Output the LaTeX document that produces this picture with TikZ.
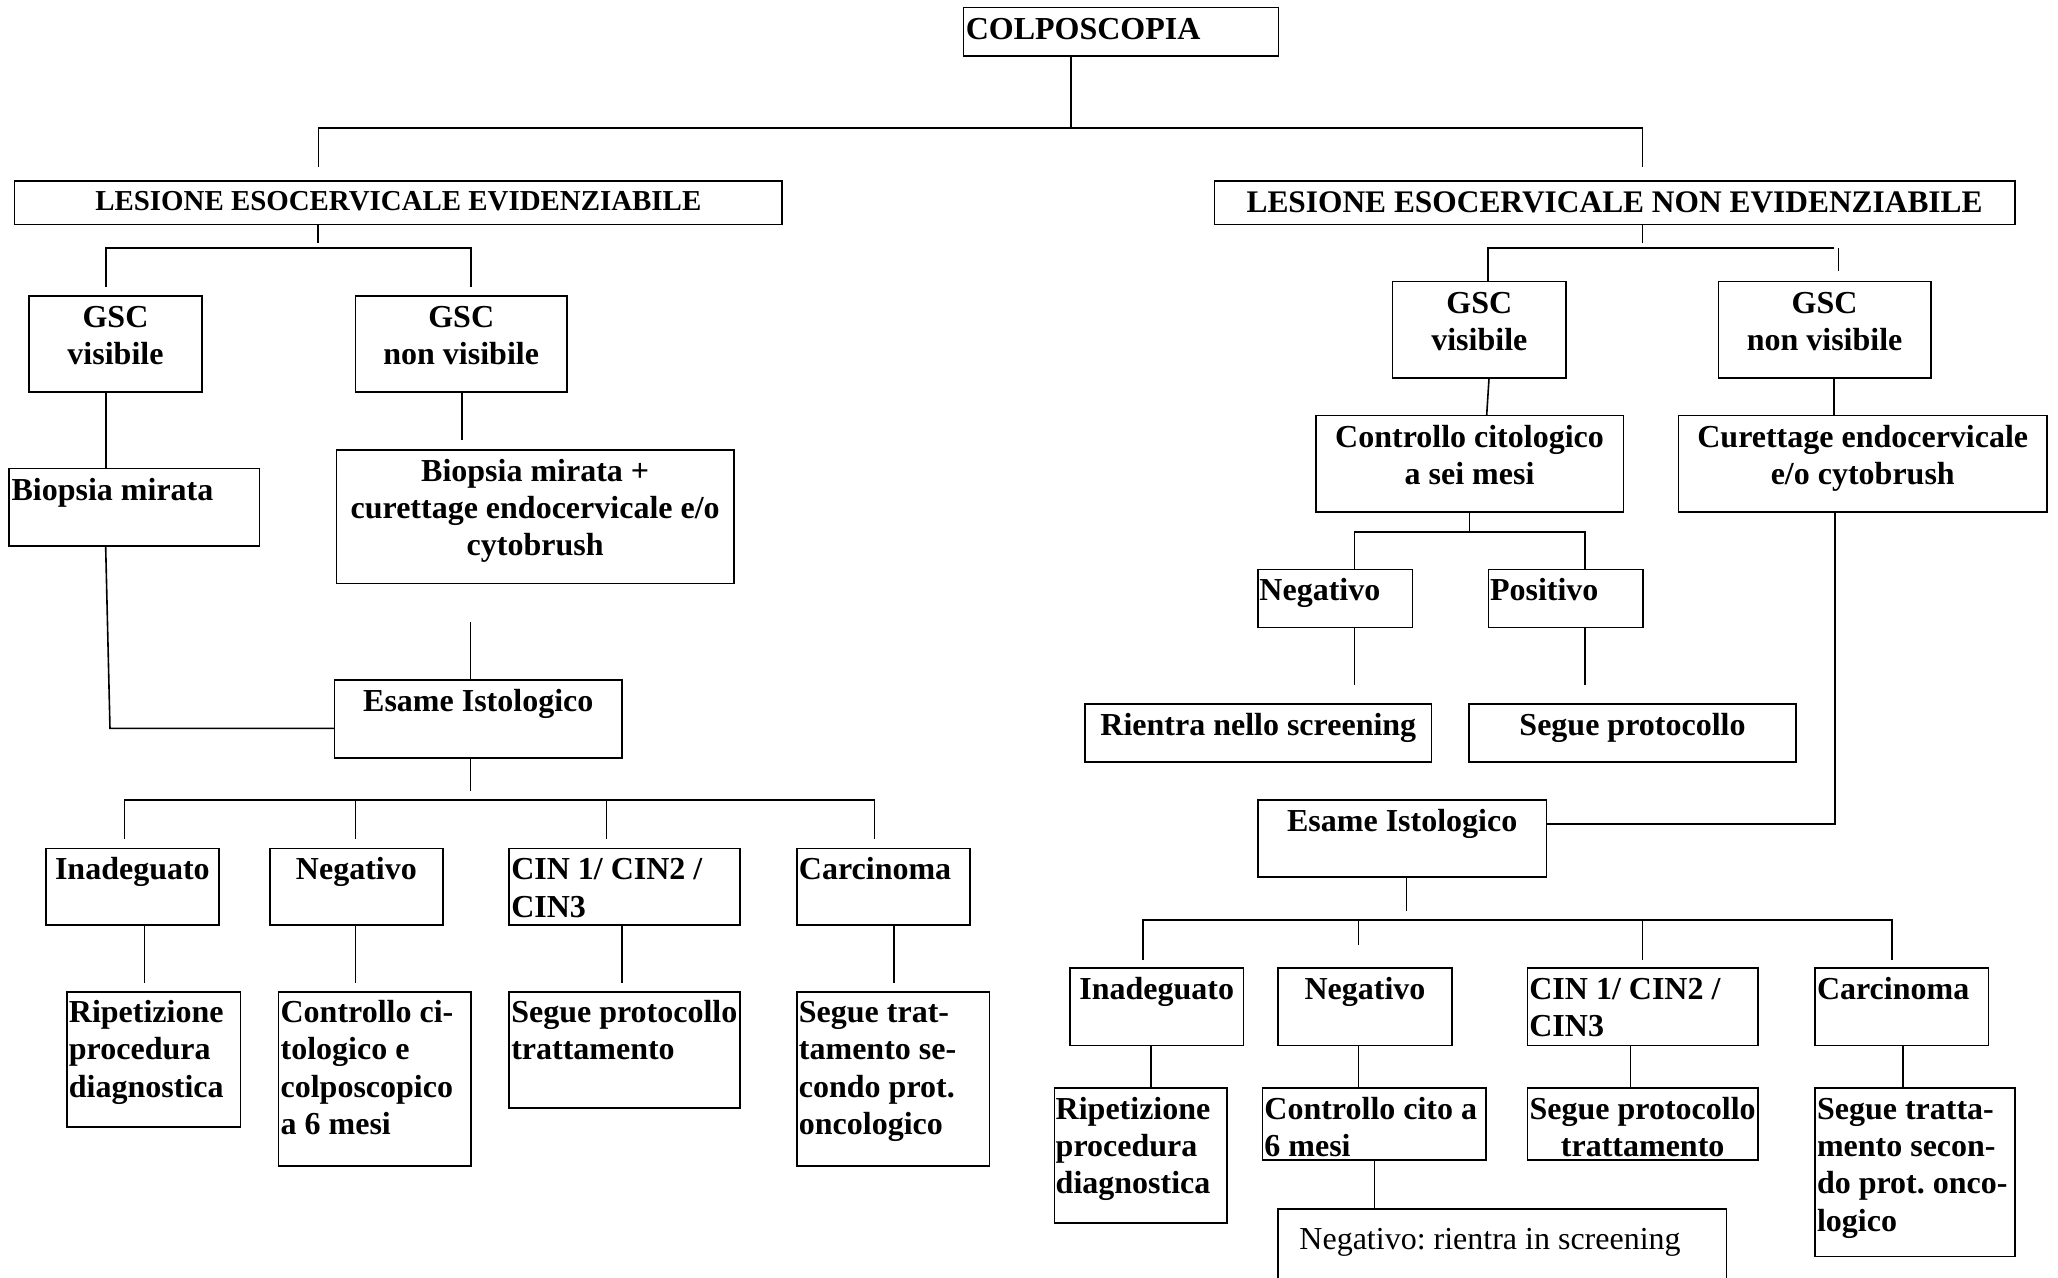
\documentclass[tikz,border=0pt]{standalone}
\usepackage{fontspec}
\setmainfont{Liberation Serif}
\usetikzlibrary{fit}
\frenchspacing
% stacked lines whose baseline is the first line
\newcommand{\cstack}[1]{\begin{tabular}[t]{@{}c@{}}#1\end{tabular}}
\newcommand{\lstack}[1]{\begin{tabular}[t]{@{}l@{}}#1\end{tabular}}
\begin{document}
\begin{tikzpicture}[x=0.65625pt, y=-0.65625pt,
  box/.style={draw, line width=0.8pt, inner sep=0pt, outer sep=0pt},
  wire/.style={line width=0.8pt},
  txt/.style={inner sep=0pt, outer sep=0pt, font=\fontsize{16}{18.6}\selectfont\bfseries},
  ctxt/.style={txt, anchor=base},
  ltxt/.style={txt, anchor=base west}]
\path[use as bounding box, clip] (0,0) rectangle (1568,973);
\fill[white] (0,0) rectangle (1568,973);

% ---------- boxes ----------
\node[box, fit={(734,5.6) (974,42.6)}] (colpo) {};
\node[box, fit={(11,138) (596,171)}] (lesL) {};
\node[box, fit={(925.4,138) (1535,171)}] (lesR) {};
% left branch
\node[box, fit={(22,225.5) (154,298.8)}] (gscVL) {};
\node[box, fit={(270.8,225.5) (432,298.8)}] (gscNL) {};
\node[box, fit={(7,357) (197.7,415.8)}] (biopL) {};
\node[box, fit={(256.3,342.7) (559.2,444.7)}] (biopC) {};
\node[box, fit={(254.8,518) (474,577.4)}] (esaL) {};
\node[box, fit={(35,646.4) (166.7,704.9)}] (inaL) {};
\node[box, fit={(205.7,646.4) (337.4,704.9)}] (negL) {};
\node[box, fit={(388,646.4) (563.7,704.9)}] (cinL) {};
\node[box, fit={(607.2,646.4) (738.9,704.9)}] (carL) {};
\node[box, fit={(51,756) (183.2,858.7)}] (ripL) {};
\node[box, fit={(212.3,756) (358.9,888.2)}] (ctrL) {};
\node[box, fit={(388,756) (563.7,844.2)}] (segL) {};
\node[box, fit={(607.2,756) (753.9,888.2)}] (trtL) {};
% right branch
\node[box, fit={(1061,214.6) (1193.2,288)}] (gscVR) {};
\node[box, fit={(1309.3,214.6) (1471,288)}] (gscNR) {};
\node[box, fit={(1002.5,316.6) (1236.8,390.3)}] (citR) {};
\node[box, fit={(1278.9,316.6) (1559.6,390.3)}] (curR) {};
\node[box, fit={(958.5,433.8) (1076.1,478)}] (negR1) {};
\node[box, fit={(1134.2,433.8) (1251.8,478)}] (posR) {};
\node[box, fit={(826.8,536.2) (1090.6,580.5)}] (rieR) {};
\node[box, fit={(1119.2,536.2) (1368.4,580.5)}] (sgpR) {};
\node[box, fit={(958.5,609.3) (1178.2,668.4)}] (esaR) {};
\node[box, fit={(815.2,737.7) (947.4,796.5)}] (inaR) {};
\node[box, fit={(973.9,737.7) (1106.1,796.5)}] (negR) {};
\node[box, fit={(1163.7,737.7) (1339.4,796.5)}] (cinR) {};
\node[box, fit={(1383,737.7) (1515.1,796.5)}] (carR) {};
\node[box, fit={(803.3,829) (934.9,931.8)}] (ripR) {};
\node[box, fit={(962,829) (1132.2,883.8)}] (ctoR) {};
\node[box, fit={(1163.7,829) (1339.4,884)}] (segR) {};
\node[box, fit={(1383,829) (1535.1,957.2)}] (trtR) {};
\node[box, fit={(973.9,921) (1315.4,990)}] (finR) {};

% ---------- texts ----------
\node[ltxt] (tcolpo) at ([xshift=1.2pt,yshift=-16pt]colpo.north west) {COLPOSCOPIA};
\node[ctxt, font=\fontsize{14.45}{17}\selectfont\bfseries] (tlesL) at ([yshift=-14.6pt]lesL.north) {LESIONE ESOCERVICALE EVIDENZIABILE};
\node[ctxt, font=\fontsize{15.7}{18}\selectfont\bfseries] (tlesR) at ([yshift=-15.5pt]lesR.north) {LESIONE ESOCERVICALE NON EVIDENZIABILE};

\node[ctxt] (tgscVL) at ([yshift=-15.75pt]gscVL.north) {\cstack{GSC\\visibile}};
\node[ctxt] (tgscNL) at ([yshift=-15.75pt]gscNL.north) {\cstack{GSC\\non visibile}};
\node[ltxt] (tbiopL) at ([xshift=1.2pt,yshift=-15.75pt]biopL.north west) {Biopsia mirata};
\node[ctxt] (tbiopC) at ([yshift=-15.75pt]biopC.north) {\cstack{Biopsia mirata +\\curettage endocervicale e/o\\cytobrush}};
\node[ctxt] (tesaL) at ([yshift=-15.75pt]esaL.north) {Esame Istologico};
\node[ctxt] (tinaL) at ([yshift=-15.75pt]inaL.north) {Inadeguato};
\node[ctxt] (tnegL) at ([yshift=-15.75pt]negL.north) {Negativo};
\node[ltxt] (tcinL) at ([xshift=1pt,yshift=-15.75pt]cinL.north west) {\lstack{CIN 1/ CIN2 /\\CIN3}};
\node[ltxt] (tcarL) at ([xshift=1pt,yshift=-15.75pt]carL.north west) {Carcinoma};
\node[ltxt] (tripL) at ([xshift=1pt,yshift=-15.2pt]ripL.north west) {\lstack{Ripetizione\\procedura\\diagnostica}};
\node[ltxt] (tctrL) at ([xshift=1pt,yshift=-15.2pt]ctrL.north west) {\lstack{Controllo ci-\\tologico e\\colposcopico\\a 6 mesi}};
\node[ltxt] (tsegL) at ([xshift=1pt,yshift=-15.2pt]segL.north west) {\lstack{Segue protocollo\\trattamento}};
\node[ltxt] (ttrtL) at ([xshift=1pt,yshift=-15.2pt]trtL.north west) {\lstack{Segue trat-\\tamento se-\\condo prot.\\oncologico}};

\node[ctxt] (tgscVR) at ([yshift=-15.75pt]gscVR.north) {\cstack{GSC\\visibile}};
\node[ctxt] (tgscNR) at ([yshift=-15.75pt]gscNR.north) {\cstack{GSC\\non visibile}};
\node[ctxt] (tcitR) at ([yshift=-15.75pt]citR.north) {\cstack{Controllo citologico\\a sei mesi}};
\node[ctxt] (tcurR) at ([yshift=-15.75pt]curR.north) {\cstack{Curettage endocervicale\\e/o cytobrush}};
\node[ltxt] (tnegR1) at ([xshift=0.7pt,yshift=-15.75pt]negR1.north west) {Negativo};
\node[ltxt] (tposR) at ([xshift=0.7pt,yshift=-15.75pt]posR.north west) {Positivo};
\node[ctxt] (trieR) at ([yshift=-15.75pt]rieR.north) {Rientra nello screening};
\node[ctxt] (tsgpR) at ([yshift=-15.75pt]sgpR.north) {Segue protocollo};
\node[ctxt] (tesaR) at ([yshift=-15.75pt]esaR.north) {Esame Istologico};
\node[ctxt] (tinaR) at ([yshift=-15.75pt]inaR.north) {Inadeguato};
\node[ctxt] (tnegR) at ([yshift=-15.75pt]negR.north) {Negativo};
\node[ltxt] (tcinR) at ([xshift=1pt,yshift=-15.75pt]cinR.north west) {\lstack{CIN 1/ CIN2 /\\CIN3}};
\node[ltxt] (tcarR) at ([xshift=0.9pt,yshift=-15.75pt]carR.north west) {Carcinoma};
\node[ltxt] (tripR) at ([xshift=0.7pt,yshift=-15.75pt]ripR.north west) {\lstack{Ripetizione\\procedura\\diagnostica}};
\node[ltxt] (tctoR) at ([xshift=0.9pt,yshift=-15.75pt]ctoR.north west) {\lstack{Controllo cito a\\6 mesi}};
\node[ctxt] (tsegR) at ([yshift=-15.75pt]segR.north) {\cstack{Segue protocollo\\trattamento}};
\node[ltxt] (ttrtR) at ([xshift=0.9pt,yshift=-15.75pt]trtR.north west) {\lstack{Segue tratta-\\mento secon-\\do prot. onco-\\logico}};
\node[ltxt, font=\fontsize{16}{18.6}\selectfont] (tfinR) at ([xshift=10.6pt,yshift=-20.1pt]finR.north west) {Negativo: rientra in screening};

% ---------- connectors ----------
% top split
\coordinate (busTop) at (816,97.3);
\coordinate (dL) at (242.8,126.9);
\coordinate (dR) at (1251.3,126.9);
\draw[wire] (colpo.south -| busTop) -- (busTop);
\draw[wire] (dL) |- (busTop) -| (dR);

% left: lesion visible
\coordinate (lsStub) at (242.3,185.4);
\coordinate (lsBus) at (242.3,188.8);
\coordinate (lsA) at (80.6,218.3);
\coordinate (lsB) at (359,218.3);
\draw[wire] (lesL.south -| lsStub) -- (lsStub);
\draw[wire] (lsA) |- (lsBus) -| (lsB);
\draw[wire] (gscVL.south -| lsA) -- (biopL.north -| lsA);
\coordinate (gnEnd) at (352,335.2);
\draw[wire] (gscNL.south -| gnEnd) -- (gnEnd);
\coordinate (bmTop) at (80.5,415.8);
\coordinate (bmCorner) at (83.8,554.9);
\draw[wire] (bmTop) -- (bmCorner) -- (esaL.west |- bmCorner);
\coordinate (bcStart) at (358.4,474.2);
\draw[wire] (bcStart) -- (esaL.north -| bcStart);
\coordinate (elStub) at (358.4,602.7);
\draw[wire] (esaL.south -| elStub) -- (elStub);
\coordinate (elBus) at (358.4,609.5);
\coordinate (el1) at (95,639.3);
\coordinate (el2) at (270.8,639.3);
\coordinate (el3) at (462,639.3);
\coordinate (el4) at (666.3,639.3);
\draw[wire] (el1) |- (elBus) -| (el4);
\draw[wire] (el2) -- (el2 |- elBus);
\draw[wire] (el3) -- (el3 |- elBus);
\coordinate (rl1) at (110,749.2);
\coordinate (rl2) at (270.8,749.2);
\coordinate (rl3) at (474,749.2);
\coordinate (rl4) at (681.3,749.2);
\draw[wire] (inaL.south -| rl1) -- (rl1);
\draw[wire] (negL.south -| rl2) -- (rl2);
\draw[wire] (cinL.south -| rl3) -- (rl3);
\draw[wire] (carL.south -| rl4) -- (rl4);

% right: lesion not visible
\coordinate (rsStub) at (1251.3,185.4);
\coordinate (rsBus) at (1251.3,189);
\coordinate (rsA) at (1133.6,214.6);
\coordinate (rsB) at (1397.3,189);
\draw[wire] (lesR.south -| rsStub) -- (rsStub);
\draw[wire] (rsA) |- (rsBus) -- (rsB);
\coordinate (rsC1) at (1400.9,189.2);
\coordinate (rsC2) at (1400.9,206.2);
\draw[wire] (rsC1) -- (rsC2);
\coordinate (gvA) at (1134.5,288);
\coordinate (gvB) at (1132.7,316.6);
\draw[wire] (gvA) -- (gvB);
\coordinate (gnR) at (1397.3,300);
\draw[wire] (gscNR.south -| gnR) -- (curR.north -| gnR);
\coordinate (ciStub) at (1119.6,405.1);
\draw[wire] (citR.south -| ciStub) -- (ciStub);
\coordinate (ci1) at (1032,433.8);
\coordinate (ci2) at (1207.8,433.8);
\draw[wire] (ci1) |- (ciStub) -| (ci2);
\coordinate (np1) at (1032,521.7);
\coordinate (np2) at (1207.8,521.7);
\draw[wire] (negR1.south -| np1) -- (np1);
\draw[wire] (posR.south -| np2) -- (np2);
\coordinate (cuCorner) at (1398,627.8);
\draw[wire] (curR.south -| cuCorner) -- (cuCorner) -- (esaR.east |- cuCorner);
\coordinate (erStub) at (1071.5,694.2);
\draw[wire] (esaR.south -| erStub) -- (erStub);
\coordinate (erBus) at (1071.5,701);
\coordinate (er1) at (870.9,731.2);
\coordinate (er2) at (1035,720);
\coordinate (er3) at (1251.3,731.2);
\coordinate (er4) at (1441.5,731.2);
\draw[wire] (er1) |- (erBus) -| (er4);
\draw[wire] (er2) -- (er2 |- erBus);
\draw[wire] (er3) -- (er3 |- erBus);
\coordinate (rr1) at (876.9,800);
\coordinate (rr2) at (1035,800);
\coordinate (rr3) at (1242.3,800);
\coordinate (rr4) at (1450,800);
\draw[wire] (inaR.south -| rr1) -- (ripR.north -| rr1);
\draw[wire] (negR.south -| rr2) -- (ctoR.north -| rr2);
\draw[wire] (cinR.south -| rr3) -- (segR.north -| rr3);
\draw[wire] (carR.south -| rr4) -- (trtR.north -| rr4);
\coordinate (cf) at (1047.1,900);
\draw[wire] (ctoR.south -| cf) -- (finR.north -| cf);
\end{tikzpicture}
\end{document}
